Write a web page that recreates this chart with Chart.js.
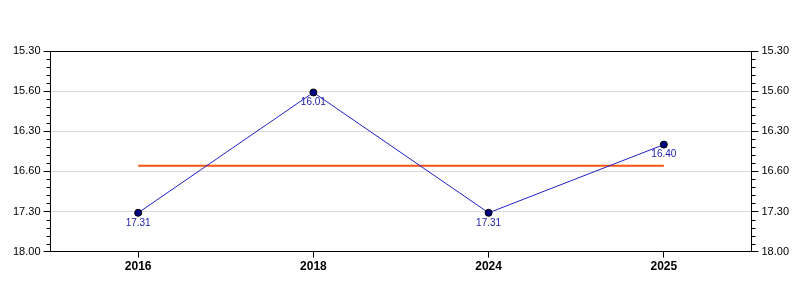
<!DOCTYPE html>
<html>
<head>
<meta charset="utf-8">
<script src="https://cdn.jsdelivr.net/npm/chart.js@4/dist/chart.umd.min.js"></script>
<style>
html,body{margin:0;padding:0;background:#fff;}
#wrap{width:800px;height:300px;position:relative;}
</style>
</head>
<body>
<div id="wrap"><canvas id="c" width="800" height="300"></canvas></div>
<script>
// Data (times shown as minutes.seconds)
const categories = ['2016', '2018', '2024', '2025'];
const timeLabels = ['17.31', '16.01', '17.31', '16.40'];
const tickLabels = ['15.30', '15.60', '16.30', '16.60', '17.30', '18.00'];
const axisMinLabel = '15.30';

function toSeconds(s) {
  const [m, sec] = s.split('.').map(Number);
  return m * 60 + sec;
}
const seriesSeconds = timeLabels.map(toSeconds);
const avgSeconds = seriesSeconds.reduce((a, b) => a + b, 0) / seriesSeconds.length;
const avgSeries = categories.map(() => avgSeconds);

const majorStep = 30, minorStep = 6;
const yMin = toSeconds(axisMinLabel);
const yMax = yMin + majorStep * (tickLabels.length - 1);

function tickText(v) {
  const k = Math.round((v - yMin) / majorStep);
  return tickLabels[k] !== undefined ? tickLabels[k] : '';
}

const yAxisBase = (pos, onArea) => ({
  type: 'linear',
  position: pos,
  reverse: true,
  min: yMin,
  max: yMax,
  ticks: {
    stepSize: majorStep,
    autoSkip: false,
    padding: 3,
    color: '#000',
    font: { family: 'Liberation Sans, Arial, sans-serif', size: 11 },
    callback: (v) => tickText(v)
  },
  grid: {
    drawOnChartArea: onArea,
    tickLength: 7,
    tickColor: '#000',
    color: '#d9d9d9',
    lineWidth: 1
  },
  border: { display: true, color: '#000', width: 1 }
});

const framePlugin = {
  id: 'frame',
  afterDraw(chart) {
    const { ctx, chartArea: a } = chart;
    ctx.save();
    ctx.strokeStyle = '#000';
    ctx.lineWidth = 1;
    ctx.beginPath();
    ctx.moveTo(a.left, Math.round(a.top) + 0.5);
    ctx.lineTo(a.right, Math.round(a.top) + 0.5);
    ctx.stroke();
    // minor ticks on both y axes
    ['y', 'y2'].forEach((id) => {
      const s = chart.scales[id];
      for (let v = yMin; v <= yMax; v += minorStep) {
        if ((v - yMin) % majorStep === 0) continue;
        const py = Math.round(s.getPixelForValue(v)) + 0.5;
        ctx.beginPath();
        if (s.position === 'left') {
          ctx.moveTo(a.left - 4, py); ctx.lineTo(a.left, py);
        } else {
          ctx.moveTo(a.right, py); ctx.lineTo(a.right + 4, py);
        }
        ctx.stroke();
      }
    });
    ctx.restore();
  }
};

const labelPlugin = {
  id: 'ptLabels',
  afterDatasetsDraw(chart) {
    const meta = chart.getDatasetMeta(0);
    const ctx = chart.ctx;
    ctx.save();
    ctx.fillStyle = '#1a1aa8';
    ctx.font = '10px "Liberation Sans", Arial, sans-serif';
    ctx.textAlign = 'center';
    ctx.textBaseline = 'top';
    meta.data.forEach((el, i) => {
      ctx.fillText(timeLabels[i], el.x, el.y + 5);
    });
    ctx.restore();
  }
};

new Chart(document.getElementById('c'), {
  type: 'line',
  data: {
    labels: categories,
    datasets: [
      {
        data: seriesSeconds,
        borderColor: '#2020c0',
        borderWidth: 1,
        pointRadius: 3.5,
        pointBackgroundColor: '#000080',
        pointBorderColor: '#000',
        pointBorderWidth: 1,
        tension: 0,
        fill: false
      },
      {
        data: avgSeries,
        borderColor: '#ff5511',
        borderWidth: 2,
        pointRadius: 0,
        tension: 0,
        fill: false
      }
    ]
  },
  options: {
    responsive: false,
    animation: false,
    layout: { padding: { top: 51, left: 10, right: 8, bottom: 24 } },
    plugins: { legend: { display: false }, tooltip: { enabled: false } },
    scales: {
      x: {
        type: 'category',
        offset: true,
        ticks: {
          color: '#000',
          padding: 2,
          font: { family: 'Liberation Sans, Arial, sans-serif', size: 12, weight: 'bold' }
        },
        grid: { drawOnChartArea: false, offset: false, tickLength: 6, tickColor: '#000' },
        border: { display: true, color: '#000', width: 1 }
      },
      y: yAxisBase('left', true),
      y2: yAxisBase('right', false)
    }
  },
  plugins: [framePlugin, labelPlugin]
});
</script>
</body>
</html>
